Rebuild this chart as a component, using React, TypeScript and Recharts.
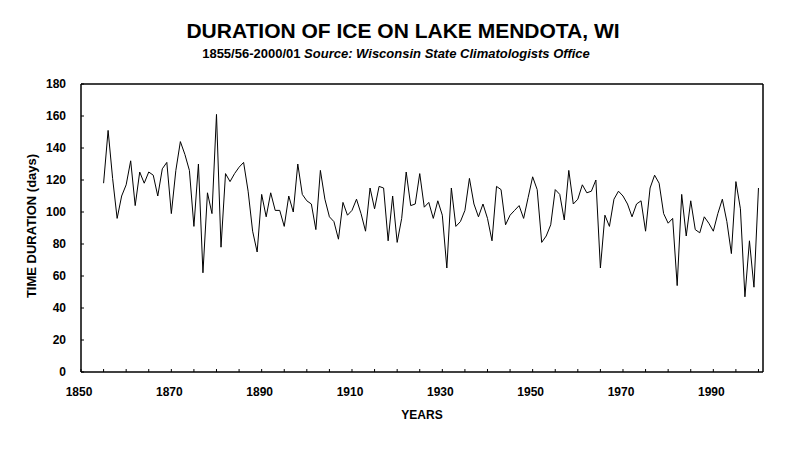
import React from 'react';
import { LineChart, Line, XAxis, YAxis, ReferenceLine } from 'recharts';

// winter starting year (1855 = 1855/56)
const firstYear = 1855;

// days of ice cover, 1855/56 .. 2000/01
const iceDays = [
  118, 151, 121, 96, 110, 117, 132, 104, 125, 118,
  125, 123, 110, 127, 131, 99, 126, 144, 136, 126,
  91, 130, 62, 112, 99, 161, 78, 124, 119, 124,
  128, 131, 113, 88, 75, 111, 97, 112, 101, 101,
  91, 110, 100, 130, 111, 107, 105, 89, 126, 108,
  97, 94, 83, 106, 98, 101, 108, 99, 88, 115,
  102, 116, 115, 82, 110, 81, 96, 125, 104, 105,
  124, 103, 106, 96, 107, 98, 65, 115, 91, 94,
  101, 121, 105, 97, 105, 96, 82, 116, 114, 92,
  98, 101, 104, 96, 109, 122, 114, 81, 85, 92,
  114, 111, 95, 126, 105, 108, 117, 112, 113, 120,
  65, 98, 91, 108, 113, 110, 105, 97, 105, 107,
  88, 115, 123, 118, 99, 93, 96, 54, 111, 85,
  107, 89, 87, 97, 93, 88, 99, 108, 94, 74,
  119, 102, 47, 82, 53, 115,
];

const xTicks = [
  1850, 1855, 1860, 1865, 1870, 1875, 1880, 1885, 1890, 1895, 1900, 1905, 1910,
  1915, 1920, 1925, 1930, 1935, 1940, 1945, 1950, 1955, 1960, 1965, 1970, 1975,
  1980, 1985, 1990, 1995, 2000,
];
const xLabelTicks = [1850, 1870, 1890, 1910, 1930, 1950, 1970, 1990];
const yTicks = [0, 20, 40, 60, 80, 100, 120, 140, 160, 180];

const chartData = iceDays.map((days, i) => ({ year: firstYear + i, days }));

const font = 'Arial, "Liberation Sans", sans-serif';

const XTick = (props: any) => {
  const { x, y, payload } = props;
  const showLabel = xLabelTicks.includes(payload.value);
  return (
    <g>
      <line x1={x} y1={y} x2={x} y2={y - 3} stroke="#000" />
      {showLabel && (
        <text x={x - 2} y={y + 24} textAnchor="middle" fontFamily={font} fontWeight="bold" fontSize={12} fill="#000">
          {payload.value}
        </text>
      )}
    </g>
  );
};

const YTick = (props: any) => {
  const { x, y, payload } = props;
  return (
    <g>
      <line x1={x} y1={y} x2={x + 3} y2={y} stroke="#000" />
      <text x={x - 15} y={y + 4} textAnchor="end" fontFamily={font} fontWeight="bold" fontSize={12} fill="#000">
        {payload.value}
      </text>
    </g>
  );
};

const App: React.FC = () => {
  return (
    <div style={{ position: 'absolute', left: 0, top: 0, width: 796, height: 449, background: '#fff' }}>
      <LineChart width={796} height={449} data={chartData} margin={{ top: 84, right: 33, bottom: 0, left: 0 }}>
        <XAxis
          dataKey="year"
          type="number"
          domain={[1850, 2001]}
          ticks={xTicks}
          interval={0}
          tickSize={0}
          tickMargin={0}
          tick={<XTick />}
          stroke="#000"
          strokeWidth={1.5}
          height={77}
        />
        <YAxis
          type="number"
          domain={[0, 180]}
          ticks={yTicks}
          interval={0}
          tickSize={0}
          tickMargin={0}
          tick={<YTick />}
          stroke="#000"
          strokeWidth={1.5}
          width={81}
        />
        <ReferenceLine y={180} stroke="#000" strokeWidth={1.5} />
        <ReferenceLine x={2001} stroke="#000" strokeWidth={1.5} />
        <Line
          type="linear"
          dataKey="days"
          stroke="#000"
          strokeWidth={1}
          dot={false}
          activeDot={false}
          isAnimationActive={false}
        />
      </LineChart>
      <svg width={796} height={449} style={{ position: 'absolute', left: 0, top: 0, pointerEvents: 'none' }}>
        <text x={403} y={38} textAnchor="middle" fontFamily={font} fontWeight="bold" fontSize={21} fill="#000">
          DURATION OF ICE ON LAKE MENDOTA, WI
        </text>
        <text x={396} y={58} textAnchor="middle" fontFamily={font} fontWeight="bold" fontSize={13} fill="#000">
          1855/56-2000/01 <tspan fontStyle="italic">Source: Wisconsin State Climatologists Office</tspan>
        </text>
        <text
          x={36}
          y={226}
          transform="rotate(-90 36 226)"
          textAnchor="middle"
          fontFamily={font}
          fontWeight="bold"
          fontSize={13}
          fill="#000"
        >
          TIME DURATION (days)
        </text>
        <text x={422} y={419} textAnchor="middle" fontFamily={font} fontWeight="bold" fontSize={12} fill="#000">
          YEARS
        </text>
      </svg>
    </div>
  );
};

export default App;
